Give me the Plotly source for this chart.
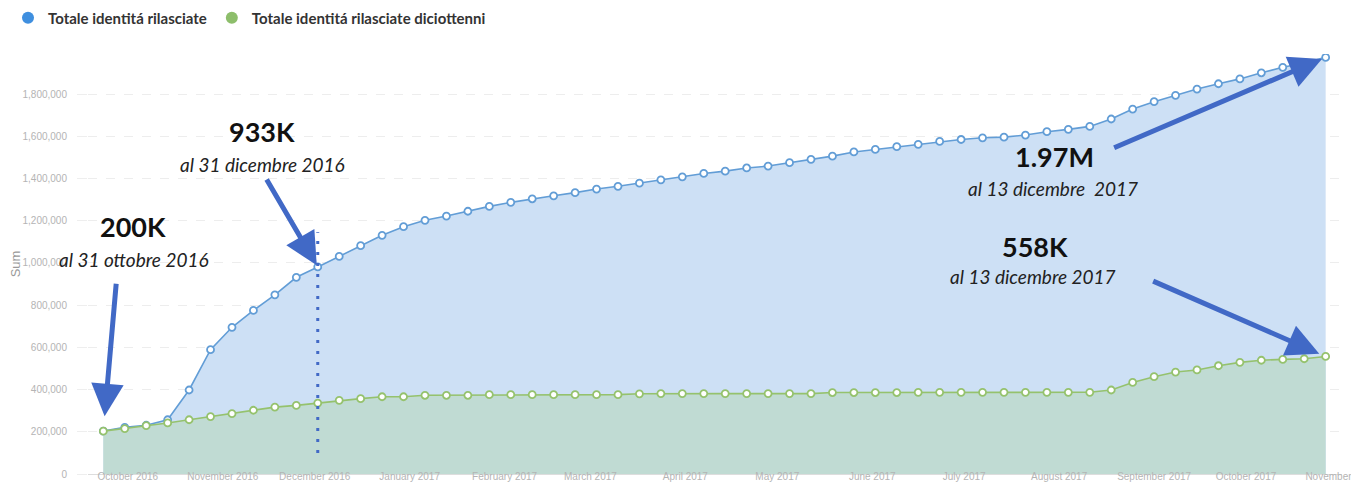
import pandas as pd
import plotly.graph_objects as go

# ---- data (weekly cumulative totals) ----
start_date = "2016-09-23"
n_weeks = 58
dates = pd.date_range(start_date, periods=n_weeks, freq="7D")

totale = [
    203000, 221000, 231000, 257000, 398000, 589000, 695000, 775000, 849000, 932000,
    981000, 1031000, 1082000, 1131000, 1172000, 1202000, 1222000, 1245000, 1268000, 1287000,
    1304000, 1318000, 1333000, 1350000, 1363000, 1378000, 1394000, 1408000, 1424000, 1435000,
    1450000, 1459000, 1475000, 1491000, 1506000, 1526000, 1538000, 1551000, 1562000, 1576000,
    1585000, 1593000, 1596000, 1606000, 1622000, 1633000, 1647000, 1682000, 1729000, 1764000,
    1794000, 1824000, 1849000, 1872000, 1901000, 1927000, 1947000, 1974000,
]
diciottenni = [
    203000, 215000, 229000, 242000, 257000, 272000, 286000, 302000, 317000, 325000,
    336000, 349000, 357000, 366000, 366000, 373000, 373000, 373000, 376000, 376000,
    376000, 376000, 376000, 376000, 376000, 380000, 381000, 381000, 381000, 381000,
    381000, 381000, 381000, 381000, 386000, 386000, 386000, 386000, 387000, 387000,
    387000, 387000, 387000, 387000, 387000, 387000, 387000, 398000, 434000, 461000,
    483000, 493000, 513000, 529000, 539000, 543000, 546000, 557000,
]
series_names = ["Totale identitá rilasciate", "Totale identitá rilasciate diciottenni"]

# ---- styling ----
BLUE_LINE = "#629dd6"
BLUE_FILL = "rgb(205,224,245)"
BLUE_LEG = "#3f8fdf"
GREEN_LINE = "#95c26d"
GREEN_FILL = "rgb(192,219,211)"
GREEN_LEG = "#8dbe6b"
ARROW = "#4169c6"
TICK_COL = "#b4b4b4"

L, R, T, B = 80, 25, 46, 20
PW = 1359 - L - R
PH = 486 - T - B

fig = go.Figure()

fig.add_trace(go.Scatter(
    x=dates, y=totale, mode="lines+markers", name=series_names[0],
    line=dict(color=BLUE_LINE, width=1.6),
    marker=dict(size=7, color="white", line=dict(color=BLUE_LINE, width=1.8)),
    fill="tozeroy", fillcolor=BLUE_FILL, showlegend=False,
))
fig.add_trace(go.Scatter(
    x=dates, y=diciottenni, mode="lines+markers", name=series_names[1],
    line=dict(color=GREEN_LINE, width=1.6),
    marker=dict(size=7, color="white", line=dict(color=GREEN_LINE, width=1.8)),
    fill="tozeroy", fillcolor=GREEN_FILL, showlegend=False,
))
# legend entries (circle markers only)
for nm, col in zip(series_names, [BLUE_LEG, GREEN_LEG]):
    fig.add_trace(go.Scatter(x=[None], y=[None], mode="markers", name=nm,
                             marker=dict(size=12, color=col), showlegend=True))

ann_big = dict(family="Lato, 'Open Sans', sans-serif", size=27, color="#111111")
ann_it = dict(family="Lato, 'Open Sans', sans-serif", size=19, color="#222222")

annotations = []

def label(xpx, ypx, text, font):
    annotations.append(dict(xref="paper", yref="paper",
                            x=(xpx - L) / PW, y=(486 - B - ypx) / PH,
                            text=text, showarrow=False, font=font,
                            xanchor="center", yanchor="middle"))

label(125, 218, "<b>200K</b>", ann_big)
label(126, 251, "<i>al 31 ottobre 2016</i>", ann_it)
label(254, 123, "<b>933K</b>", ann_big)
label(254, 156, "<i>al 31 dicembre 2016</i>", ann_it)
label(1046, 148, "<b>1.97M</b>", ann_big)
label(1045, 180, "<i>al 13 dicembre  2017</i>", ann_it)
label(1027, 238, "<b>558K</b>", ann_big)
label(1025, 268, "<i>al 13 dicembre 2017</i>", ann_it)

def arrow(xv, yv, ax, ay, standoff):
    annotations.append(dict(x=xv, y=yv, xref="x", yref="y", text="",
                            showarrow=True, ax=ax, ay=ay, arrowhead=2,
                            arrowsize=1.3, arrowwidth=5, arrowcolor=ARROW,
                            standoff=standoff))

arrow(dates[0], totale[0], 13, -149, 15)
arrow(dates[10], totale[10], -52, -89, 2)
arrow(dates[-1], totale[-1], -213, 91, 4)
arrow(dates[-1], diciottenni[-1], -174, -76, 7)

shapes = [dict(type="line", xref="x", yref="y", x0=dates[10], x1=dates[10],
               y0=100000, y1=1145000,
               line=dict(color=ARROW, width=3, dash="3px,8px"))]

fig.update_layout(
    width=1359, height=486,
    margin=dict(l=L, r=R, t=T, b=B),
    paper_bgcolor="white", plot_bgcolor="white",
    font=dict(family="'Liberation Sans', Arial, sans-serif", color=TICK_COL),
    legend=dict(orientation="h", xref="container", yref="container",
                x=0.0, y=1 - 10 / 486, xanchor="left", yanchor="middle",
                font=dict(family="Lato, 'Open Sans', sans-serif", size=15,
                          color="#333333", weight="bold"),
                itemsizing="constant", traceorder="normal", itemwidth=30),
    annotations=annotations,
    shapes=shapes,
    showlegend=True,
)
fig.update_xaxes(
    type="date", range=["2016-09-18", "2017-11-01 08:00"],
    tick0="2016-10-01", dtick="M1", tickformat="%B %Y",
    tickfont=dict(size=10, color=TICK_COL), ticklabeloverflow="allow",
    showgrid=False, showline=True, linecolor="#dddddd", linewidth=1,
    ticks="", automargin=False, zeroline=False, ticklabelstandoff=-7,
)
fig.update_yaxes(
    range=[0, 1990000], dtick=200000, tickformat=",d",
    tickfont=dict(size=10, color=TICK_COL), ticklabelstandoff=8,
    showgrid=True, gridcolor="rgba(0,0,0,0.07)", griddash="dash", gridwidth=1,
    zeroline=False, showline=False, ticks="outside", ticklen=10, tickcolor="#eeeeee",
    title=dict(text="Sum", font=dict(size=13, color="#9a9a9a"), standoff=0),
    automargin=False,
)

fig.write_html("out.html")
